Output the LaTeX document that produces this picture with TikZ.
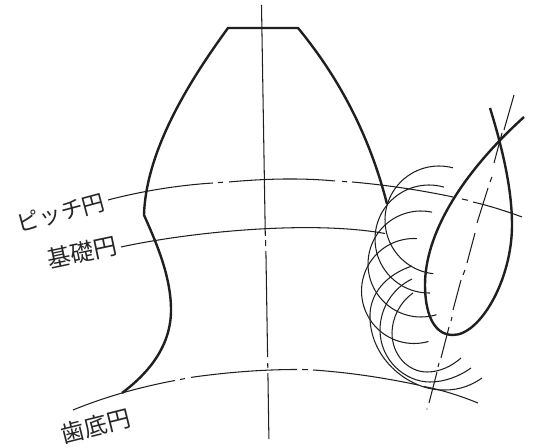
\documentclass[tikz,border=0pt]{standalone}
\usepackage{fontspec}
\newfontfamily\jpfont{Noto Sans CJK JP}
\tikzset{
  thickline/.style={line width=2.4bp,color=black!88,line cap=butt,line join=miter},
  thinline/.style={line width=1.05bp,color=black!88},
  curve/.style={smooth,tension=1},
  label/.style={font=\jpfont\fontsize{#1}{#1}\selectfont,color=black!85,inner sep=0pt}
}
\newcommand{\genarc}[5]{\draw[thinline] plot[smooth,domain=#4:#5,samples=50] ({#1+#3*cos(\x)},{#2+#3*sin(\x)});}
\begin{document}
\begin{tikzpicture}[x=1bp,y=-1bp]
\useasboundingbox (0,0) rectangle (533,448);
% centre axis
\draw[thinline] (261.5,5) -- (265.3,236);
\draw[thinline] (265.6,240) -- (265.7,246);
\draw[thinline] (265.9,251) -- (267.6,357);
\draw[thinline] (267.7,363) -- (267.8,368);
\draw[thinline] (267.9,373) -- (268.9,439);
% pitch circle
\draw[thinline] plot[curve] coordinates {(108,200) (160,189) (213,183)};
\draw[thinline] (218,182.6) -- (223,182.2);
\draw[thinline] plot[curve] coordinates {(229,182) (285,179) (335,181)};
\draw[thinline] (342,181.4) -- (347,181.8);
\draw[thinline] plot[curve] coordinates {(352,182) (403,188) (453,197)};
\draw[thinline] (462,199) -- (468,200.3);
\draw[thinline] plot[curve] coordinates {(473,202) (497,208.5) (522,217)};
% base circle
\draw[thinline] (121,247) .. controls (190,232) and (310,220) .. (385,233.5);
% root circle
\draw[thinline] plot[curve] coordinates {(73,410) (122,393) (175,380.5)};
\draw[thinline] (180,379.5) -- (185,378.6);
\draw[thinline] plot[curve] coordinates {(191,377.4) (245,371.5) (297,369.5)};
\draw[thinline] (302,369.5) -- (308,369.6);
\draw[thinline] plot[curve] coordinates {(313,370) (365,375.5) (418,385)};
\draw[thinline] plot[curve] coordinates {(424,386.5) (450,393) (478,403)};
% second axis
\draw[thinline] (514,95) -- (504,130);
\draw[thinline] (502,133) -- (494,163);
\draw[thinline] (492,177) -- (490,182);
\draw[thinline] (488,188) -- (477,223);
\draw[thinline] (475,233) -- (467,263);
\draw[thinline] (465,270) -- (463,275);
\draw[thinline] (461,280) -- (453,310);
\draw[thinline] (452,317) -- (451,321);
\draw[thinline] (449,327) -- (441,358);
\draw[thinline] (439,363) -- (438,367);
\draw[thinline] (437,372) -- (429,403);
\fill[black!88] (427,409) circle (0.7);
% upper generating arcs
\genarc{439}{220}{54}{285}{96}
\genarc{429}{239}{54}{286}{89}
\genarc{421}{264}{53}{282}{73}
\genarc{414}{291}{52.5}{273}{74}
% lower generating arcs
\draw[thinline] (412,266) .. controls (385,275) and (369,295) .. (370,318) .. controls (371,360) and (410,391) .. (445,390) .. controls (460,390) and (472,385) .. (482,378);
\draw[thinline] (412,279) .. controls (393,288) and (380,308) .. (380,330) .. controls (380,360) and (405,382) .. (430,382) .. controls (445,382) and (460,376) .. (471,368);
\draw[thinline] (413,293) .. controls (400,302) and (392,318) .. (392,333) .. controls (392,355) and (408,372) .. (427,372) .. controls (440,372) and (452,366) .. (461,358);
% tooth outline
\draw[thickline] (122,393) .. controls (150,372) and (171,345) .. (171,310) .. controls (171,275) and (155,240) .. (144,215) .. controls (146,150) and (190,80) .. (228,28) -- (298,28) .. controls (345,85) and (372,145) .. (387,204);
% involute loop
\draw[thickline] (490,108) .. controls (503,150) and (512,190) .. (512,225) .. controls (512,280) and (480,335) .. (453,335) .. controls (432,335) and (425,310) .. (425,285) .. controls (425,235) and (460,175) .. (524,117);
% labels
\node[label=22.5bp,rotate=15] (pitch) at (61,213) {ピッチ円};
\node[label=23.5bp,rotate=12] (base) at (82,252) {基礎円};
\node[label=23.5bp,rotate=14] (root) at (96,426) {歯底円};
\end{tikzpicture}
\end{document}
